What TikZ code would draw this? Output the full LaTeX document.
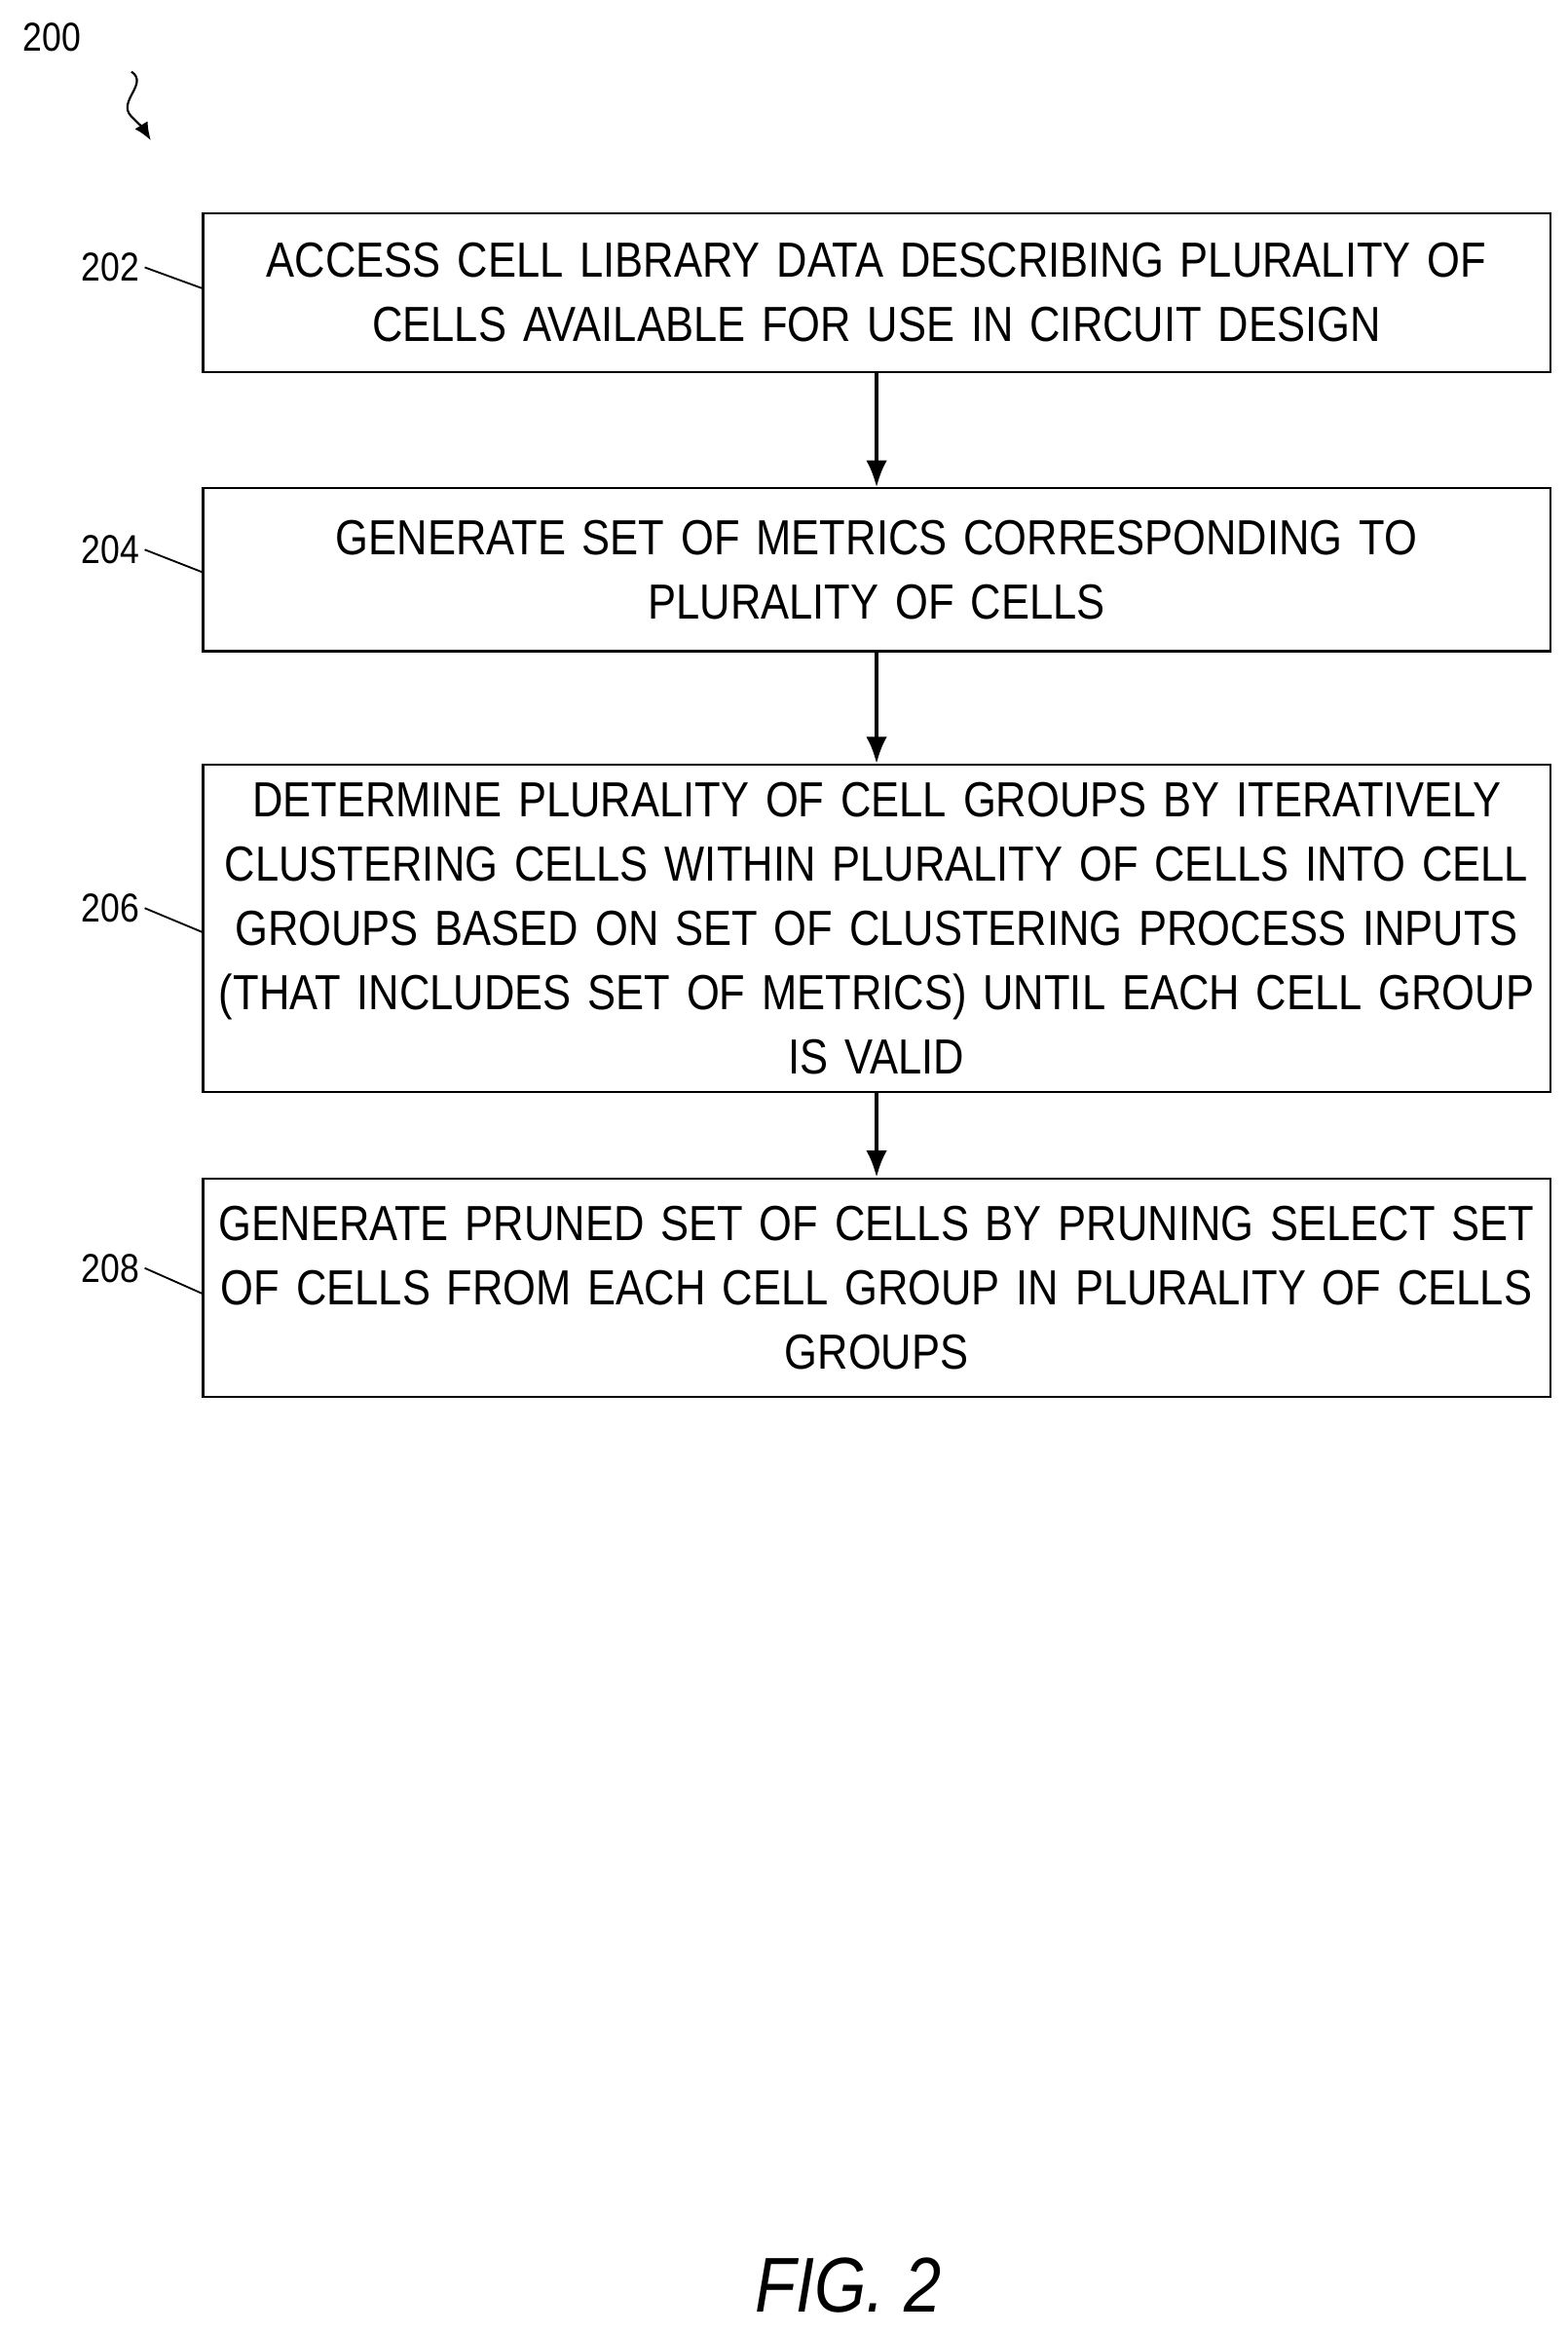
\documentclass[tikz,border=0pt]{standalone}
\usepackage{fontspec}
\setmainfont{Liberation Sans}[FakeStretch=0.86]
\usetikzlibrary{arrows.meta}
\begin{document}
\begin{tikzpicture}[x=1pt,y=1pt]
    \tikzstyle{stepbox}=[draw,line width=1.4pt,text width=902pt,align=center,inner sep=0pt,font=\fontsize{33}{43}\selectfont]
    \tikzstyle{lbl}=[font=\fontsize{27}{30}\selectfont]
    \tikzstyle{flow}=[-{Latex[length=18pt,width=14pt]},line width=2.4pt]

    \useasboundingbox (0,0) rectangle (1050,-1562);

    \node[stepbox,minimum height=106pt] (access) at (587,-196) {ACCESS CELL LIBRARY DATA DESCRIBING PLURALITY OF\\CELLS AVAILABLE FOR USE IN CIRCUIT DESIGN};
    \node[stepbox,minimum height=109pt] (metrics) at (587,-381.5) {GENERATE SET OF METRICS CORRESPONDING TO\\PLURALITY OF CELLS};
    \node[stepbox,minimum height=219pt] (cluster) at (587,-621.5) {DETERMINE PLURALITY OF CELL GROUPS BY ITERATIVELY\\CLUSTERING CELLS WITHIN PLURALITY OF CELLS INTO CELL\\GROUPS BASED ON SET OF CLUSTERING PROCESS INPUTS\\(THAT INCLUDES SET OF METRICS) UNTIL EACH CELL GROUP\\IS VALID};
    \node[stepbox,minimum height=146pt] (prune) at (587,-862) {GENERATE PRUNED SET OF CELLS BY PRUNING SELECT SET\\OF CELLS FROM EACH CELL GROUP IN PLURALITY OF CELLS\\GROUPS};

    \draw[flow] (access) -- (metrics);
    \draw[flow] (metrics) -- (cluster);
    \draw[flow] (cluster) -- (prune);

    % reference numerals
    \node[lbl] (n200) at (35,-25) {200};
    \node[lbl] (n202) at (74,-179) {202};
    \node[lbl] (n204) at (74,-368) {204};
    \node[lbl] (n206) at (74,-608) {206};
    \node[lbl] (n208) at (74,-849) {208};
    \draw[line width=1.2pt] (n202.east) -- (access.west|-0,-193);
    \draw[line width=1.2pt] (n204.east) -- (metrics.west|-0,-383);
    \draw[line width=1.2pt] (n206.east) -- (cluster.west|-0,-624);
    \draw[line width=1.2pt] (n208.east) -- (prune.west|-0,-866);
    \coordinate (tip) at (101,-94);
    \draw[line width=1.4pt,-{Latex[length=12pt,width=10pt]}] (88,-48) .. controls (100,-56) and (78,-68) .. (88,-78) .. controls (92,-82) and (96,-86) .. (tip);

    \node[font=\itshape\fontsize{52}{52}\selectfont] (fig) at (568,-1530) {FIG. 2};
\end{tikzpicture}
\end{document}
